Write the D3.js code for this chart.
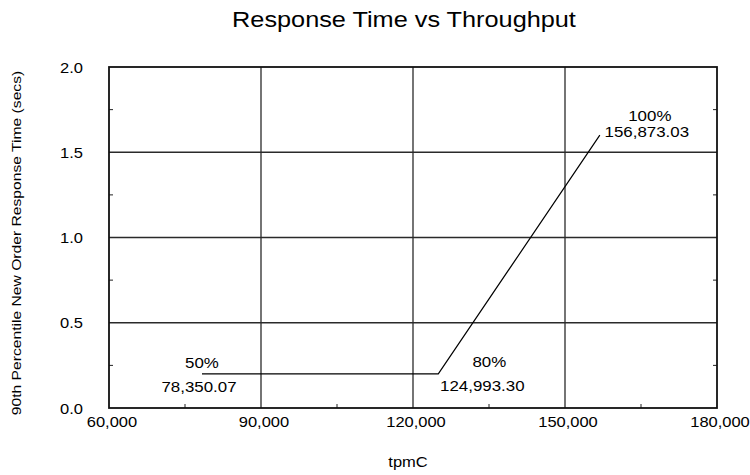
<!DOCTYPE html>
<html>
<head>
<meta charset="utf-8">
<script src="https://cdn.jsdelivr.net/npm/d3@7"></script>
<style>
body { margin: 0; background: #fff; }
text { font-family: "Liberation Sans", Arial, sans-serif; fill: #000; }
</style>
</head>
<body>
<div id="chart"></div>
<script>
// data
var tpmC = [78350.07, 124993.30, 156873.03];
var respTime = [0.2, 0.2, 1.6];
var pctLabels = ["50%", "80%", "100%"];
var valLabels = ["78,350.07", "124,993.30", "156,873.03"];
var xTicks = [60000, 90000, 120000, 150000, 180000];
var xMinor = [75000, 105000, 135000, 165000];
var yTicks = [0, 0.5, 1.0, 1.5, 2.0];
var yMinor = [0.25, 0.75, 1.25, 1.75];

var margin = {top: 67, right: 33, bottom: 67, left: 109},
    width = 750 - margin.left - margin.right,
    height = 475 - margin.top - margin.bottom;

var x = d3.scaleLinear().domain([60000, 180000]).range([0, width]);
var y = d3.scaleLinear().domain([0, 2]).range([height, 0]);

var svg = d3.select("#chart").append("svg")
    .attr("width", 750)
    .attr("height", 475);

// text in the original is a bit wider than Liberation Sans, so stretch it
function label(parent, px, py, str, size, sx, anchor, rot) {
    return parent.append("text")
        .attr("transform", "translate(" + px + "," + py + ")" + (rot ? " rotate(" + rot + ")" : "") + " scale(" + sx + ",1)")
        .attr("text-anchor", anchor || "middle")
        .style("font-size", size + "px")
        .text(str);
}

label(svg, 404, 27, "Response Time vs Throughput", 22, 1.15);

var g = svg.append("g")
    .attr("transform", "translate(" + margin.left + "," + margin.top + ")");

// grid
g.selectAll(".vgrid").data(xTicks.slice(1, -1)).enter().append("line")
    .attr("x1", d => x(d)).attr("x2", d => x(d))
    .attr("y1", 0).attr("y2", height)
    .style("stroke", "#2a2a2a").style("stroke-width", "1.3px");
g.selectAll(".hgrid").data(yTicks.slice(1, -1)).enter().append("line")
    .attr("x1", 0).attr("x2", width)
    .attr("y1", d => y(d)).attr("y2", d => y(d))
    .style("stroke", "#2a2a2a").style("stroke-width", "1.3px");

// minor ticks (inside)
g.selectAll(".xminor").data(xMinor).enter().append("line")
    .attr("x1", d => x(d)).attr("x2", d => x(d))
    .attr("y1", height).attr("y2", height - 4)
    .style("stroke", "#222");
g.selectAll(".yminorL").data(yMinor).enter().append("line")
    .attr("x1", 0).attr("x2", 4)
    .attr("y1", d => y(d)).attr("y2", d => y(d))
    .style("stroke", "#222");
g.selectAll(".yminorR").data(yMinor).enter().append("line")
    .attr("x1", width).attr("x2", width - 4)
    .attr("y1", d => y(d)).attr("y2", d => y(d))
    .style("stroke", "#222");

// frame
g.append("rect")
    .attr("width", width).attr("height", height)
    .style("fill", "none").style("stroke", "#111").style("stroke-width", "1.8px");

// tick labels
var fmtX = d3.format(","), fmtY = d3.format(".1f");
xTicks.forEach(function(d) {
    label(g, x(d) + 3, height + 19, fmtX(d), 15, 1.1);
});
yTicks.forEach(function(d) {
    label(g, -26, y(d) + 5.5, fmtY(d), 15, 1.1, "end");
});

label(svg, 408, 467, "tpmC", 14, 1.18);
label(svg, 21, 243, "90th Percentile New Order Response Time (secs)", 13.5, 1.16, "middle", -90);

// the line
var pts = tpmC.map((d, i) => ({x: d, y: respTime[i]}));
var line = d3.line().x(d => x(d.x)).y(d => y(d.y));
g.append("path")
    .datum(pts)
    .attr("d", line)
    .style("fill", "none")
    .style("stroke", "#000")
    .style("stroke-width", "1.2px");

// point labels: [dx pct, dy pct, dx value, dy value]
var labOff = [[0, -5.5, -3, 18.5], [51, -6.5, 44, 17.5], [50, -14.5, 47, 1.5]];
pts.forEach(function(p, i) {
    label(g, x(p.x) + labOff[i][0], y(p.y) + labOff[i][1], pctLabels[i], 15.5, 1.09);
    label(g, x(p.x) + labOff[i][2], y(p.y) + labOff[i][3], valLabels[i], 15.5, 1.09);
});
</script>
</body>
</html>
